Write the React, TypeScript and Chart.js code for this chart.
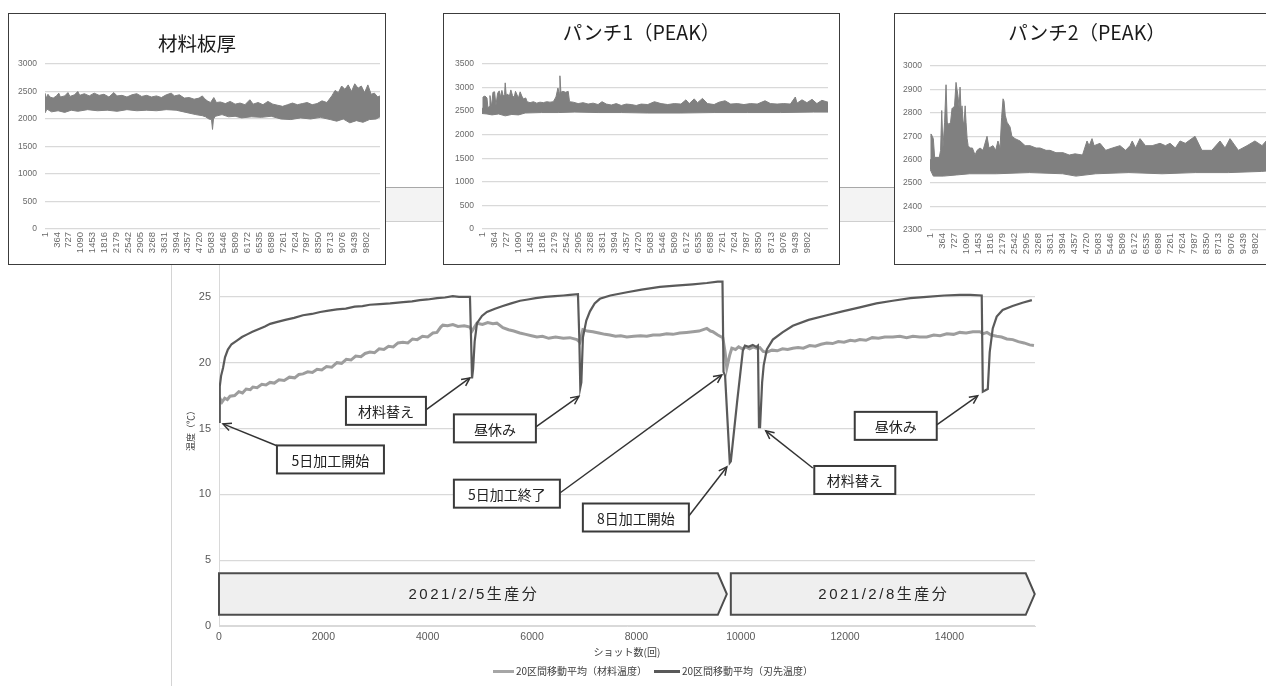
import React, { useEffect, useRef } from "react";
import { Chart, registerables } from "chart.js";

Chart.register(...registerables);

type Pt = [number, number];

// ---------------- main chart data (shot count, °C) ----------------
const materialTemp: Pt[] = [
  [0, 16.9], [30, 17.2], [57, 17.0], [110, 17.3], [160, 17.2], [211, 17.45], [300, 17.5], [380, 17.8],
  [450, 17.7], [520, 18.0], [600, 17.95], [650, 18.15], [730, 18.1], [820, 18.35], [900, 18.3], [977, 18.5],
  [1060, 18.45], [1150, 18.7], [1250, 18.65], [1350, 18.9], [1450, 18.85], [1530, 19.1], [1610, 19.15],
  [1700, 19.3], [1790, 19.25], [1880, 19.5], [1970, 19.45], [2060, 19.7], [2160, 19.65], [2260, 20.0],
  [2350, 19.95], [2440, 20.25], [2530, 20.2], [2620, 20.5], [2720, 20.45], [2800, 20.7], [2893, 20.8],
  [2980, 20.75], [3070, 21.05], [3160, 21.0], [3250, 21.25], [3340, 21.2], [3430, 21.5], [3525, 21.55],
  [3620, 21.5], [3710, 21.8], [3800, 21.75], [3900, 22.0], [4000, 21.95], [4100, 22.25], [4177, 22.3],
  [4250, 22.7], [4290, 22.85], [4380, 22.8], [4483, 22.9], [4580, 22.75], [4700, 22.8], [4809, 22.7],
  [4850, 22.4], [4880, 22.6], [4943, 23.0], [5050, 22.9], [5150, 23.05], [5250, 22.95], [5326, 23.0],
  [5441, 22.65], [5550, 22.5], [5650, 22.4], [5767, 22.25], [5880, 22.15], [5990, 22.05], [6093, 21.95],
  [6200, 22.0], [6320, 21.85], [6450, 21.95], [6600, 21.85], [6725, 21.9], [6860, 21.75], [6917, 21.55],
  [6974, 22.5], [7060, 22.4], [7166, 22.35], [7280, 22.25], [7400, 22.15], [7492, 22.1], [7600, 22.0],
  [7700, 22.05], [7817, 21.95], [7950, 22.0], [8080, 22.05], [8200, 22.0], [8320, 22.1], [8450, 22.1],
  [8580, 22.2], [8700, 22.15], [8830, 22.25], [8960, 22.3], [9082, 22.35], [9200, 22.4], [9350, 22.6],
  [9420, 22.4], [9465, 22.35], [9560, 22.1], [9657, 21.9], [9700, 20.8], [9733, 19.6], [9790, 20.6],
  [9829, 21.1], [9900, 21.0], [9960, 21.2], [10030, 21.05], [10100, 21.2], [10170, 21.05], [10240, 21.2],
  [10300, 21.1], [10366, 21.15], [10430, 20.85], [10500, 20.8], [10600, 20.95], [10700, 20.9], [10800, 21.05],
  [10900, 21.0], [10998, 21.1], [11100, 21.15], [11200, 21.1], [11320, 21.3], [11430, 21.25], [11540, 21.4],
  [11649, 21.5], [11760, 21.45], [11870, 21.6], [11980, 21.55], [12100, 21.7], [12190, 21.65], [12282, 21.75],
  [12400, 21.7], [12520, 21.9], [12640, 21.85], [12760, 21.95], [12914, 21.95], [13050, 22.0], [13180, 21.9],
  [13300, 22.0], [13430, 21.95], [13565, 21.95], [13700, 22.1], [13820, 22.05], [13950, 22.2], [14080, 22.15],
  [14198, 22.3], [14320, 22.25], [14450, 22.35], [14581, 22.35], [14650, 22.2], [14720, 22.3], [14800, 22.1],
  [14906, 22.0], [15000, 21.95], [15100, 21.8], [15213, 21.75], [15320, 21.6], [15430, 21.5], [15539, 21.35],
  [15620, 21.3],
];

const bladeTemp: Pt[] = [
  [0, 15.5], [15, 18.2], [40, 19.0], [77, 19.6], [115, 20.4], [170, 21.0], [240, 21.4], [350, 21.7],
  [440, 21.95], [540, 22.15], [640, 22.35], [790, 22.6], [880, 22.75], [980, 22.95], [1120, 23.1],
  [1270, 23.25], [1440, 23.4], [1610, 23.6], [1780, 23.7], [1940, 23.85], [2100, 23.95], [2260, 24.05],
  [2430, 24.1], [2600, 24.25], [2750, 24.3], [2890, 24.4], [3080, 24.45], [3280, 24.5], [3530, 24.6],
  [3700, 24.65], [3850, 24.75], [4000, 24.8], [4180, 24.9], [4330, 24.95], [4480, 25.05], [4600, 25.0],
  [4710, 25.0], [4810, 25.0], [4830, 22.0], [4850, 18.8], [4870, 19.5], [4900, 21.6], [4945, 23.0],
  [5040, 23.55], [5135, 23.85], [5290, 24.1], [5440, 24.3], [5600, 24.5], [5770, 24.7], [5920, 24.8],
  [6070, 24.9], [6250, 25.0], [6440, 25.05], [6600, 25.1], [6725, 25.15], [6880, 25.2], [6905, 22.0],
  [6925, 18.1], [6945, 18.5], [6975, 21.9], [7040, 23.2], [7110, 23.9], [7200, 24.5], [7300, 24.85],
  [7500, 25.1], [7820, 25.35], [8100, 25.55], [8450, 25.75], [8750, 25.85], [9080, 25.95], [9350, 26.05],
  [9560, 26.15], [9650, 26.15], [9670, 19.3], [9700, 19.0], [9790, 12.4], [9810, 12.5], [9930, 17.0],
  [10040, 20.9], [10080, 21.3], [10150, 21.2], [10230, 21.35], [10300, 21.2], [10330, 21.3], [10350, 15.1],
  [10370, 15.1], [10410, 18.5], [10440, 19.8], [10500, 21.0], [10615, 21.75], [10800, 22.3], [10998, 22.8],
  [11300, 23.25], [11649, 23.6], [11950, 23.9], [12282, 24.2], [12600, 24.5], [12914, 24.7], [13250, 24.9],
  [13565, 25.0], [13900, 25.1], [14198, 25.15], [14400, 25.15], [14619, 25.1], [14640, 17.8], [14690, 17.9],
  [14735, 18.0], [14772, 20.8], [14830, 22.6], [14906, 23.5], [15020, 24.0], [15210, 24.3], [15400, 24.55],
  [15580, 24.75],
];

const seriesLabels = ["20区間移動平均（材料温度）", "20区間移動平均（刃先温度）"];
const xAxisTitle = "ショット数(回)";
const yAxisTitle = "温度（℃）";
const xTickValues = [0, 2000, 4000, 6000, 8000, 10000, 12000, 14000];
const yTickValues = [0, 5, 10, 15, 20, 25, 30];
const xMaxShots = 15640;

// production periods
const periodLabels = ["2021/2/5生産分", "2021/2/8生産分"];
const periodStart = [0, 9810];
const periodEnd = [9733, 15635];
const periodTop = 4.0;
const periodBottom = 0.85;

// callouts: label, box centre, arrow start, arrow tip (shot, °C)
const calloutLabels = ["5日加工開始", "材料替え", "昼休み", "5日加工終了", "8日加工開始", "材料替え", "昼休み"];
const calloutBox: Pt[] = [[2136, 12.65], [3200, 16.34], [5288, 15.01], [5518, 10.05], [7990, 8.24], [12186, 11.09], [12971, 15.2]];
const calloutFrom: Pt[] = [[1169, 13.6], [3966, 16.41], [6074, 15.12], [6534, 10.1], [9005, 8.36], [11381, 12.0], [13757, 15.27]];
const calloutTo: Pt[] = [[77, 15.35], [4809, 18.84], [6898, 17.44], [9637, 19.07], [9733, 12.08], [10480, 14.82], [14542, 17.48]];
const calloutWidth = [107, 80, 82, 106, 106, 81, 82];

// ---------------- inset data (envelopes of the dense series) ----------------
const insetTickLabels = [1, 364, 727, 1090, 1453, 1816, 2179, 2542, 2905, 3268, 3631, 3994, 4357, 4720, 5083,
  5446, 5809, 6172, 6535, 6898, 7261, 7624, 7987, 8350, 8713, 9076, 9439, 9802];

const thicknessUpper: Pt[] = [
  [0, 2470], [40, 2380], [90, 2450], [150, 2400], [250, 2380], [350, 2420], [420, 2470], [470, 2400],
  [600, 2420], [700, 2480], [760, 2410], [900, 2440], [1000, 2500], [1060, 2430], [1200, 2460], [1350, 2420],
  [1500, 2470], [1650, 2430], [1800, 2450], [1950, 2400], [2100, 2480], [2200, 2420], [2350, 2430], [2500, 2400],
  [2650, 2440], [2800, 2460], [2950, 2410], [3100, 2430], [3250, 2400], [3400, 2420], [3550, 2390], [3700, 2440],
  [3850, 2470], [3950, 2420], [4100, 2440], [4250, 2380], [4400, 2390], [4550, 2360], [4700, 2380], [4800, 2420],
  [4870, 2370], [4950, 2330], [5050, 2300], [5150, 2390], [5230, 2300], [5350, 2310], [5500, 2280], [5650, 2320],
  [5800, 2270], [5950, 2290], [6100, 2260], [6250, 2350], [6350, 2270], [6500, 2300], [6650, 2260], [6800, 2320],
  [6950, 2270], [7100, 2250], [7250, 2230], [7400, 2260], [7550, 2290], [7700, 2260], [7850, 2280], [8000, 2300],
  [8150, 2260], [8300, 2280], [8450, 2330], [8600, 2300], [8750, 2420], [8850, 2520], [8950, 2480], [9050, 2600],
  [9150, 2540], [9250, 2620], [9350, 2500], [9450, 2640], [9550, 2560], [9650, 2600], [9750, 2480], [9850, 2620],
  [9950, 2450], [10050, 2470], [10150, 2400], [10220, 2420],
];
const thicknessLower: Pt[] = [
  [0, 2110], [60, 2180], [200, 2130], [400, 2150], [600, 2120], [800, 2160], [1000, 2140], [1300, 2170],
  [1600, 2150], [1900, 2160], [2200, 2140], [2500, 2170], [2800, 2150], [3100, 2160], [3400, 2150], [3700, 2170],
  [4000, 2160], [4300, 2120], [4600, 2080], [4800, 2060], [4900, 2040], [5000, 2000], [5080, 1990], [5110, 1810],
  [5140, 2000], [5200, 2050], [5400, 2080], [5600, 2040], [5800, 2050], [6000, 2020], [6300, 2040], [6600, 2030],
  [6900, 2050], [7200, 2000], [7500, 1990], [7800, 2020], [8100, 2000], [8400, 2030], [8700, 1990], [8900, 1960],
  [9100, 2000], [9300, 1930], [9500, 1970], [9700, 1940], [9900, 1990], [10100, 2000], [10220, 2040],
];

const punch1Upper: Pt[] = [
  [0, 2560], [30, 2800], [90, 2820], [150, 2780], [180, 2560], [212, 2600], [240, 2830], [290, 2600],
  [330, 2900], [380, 2910], [420, 2620], [470, 2880], [520, 2930], [560, 2800], [600, 2940], [640, 2820],
  [680, 2850], [700, 3100], [730, 2840], [780, 2860], [820, 2800], [870, 2950], [920, 2830], [970, 2790],
  [1010, 2920], [1060, 2840], [1100, 2780], [1150, 2910], [1200, 2820], [1250, 2760], [1320, 2780], [1360, 2700],
  [1450, 2680], [1550, 2700], [1650, 2670], [1750, 2690], [1850, 2680], [1950, 2700], [2050, 2690], [2150, 2700],
  [2230, 2800], [2290, 2990], [2330, 2880], [2350, 3250], [2380, 2900], [2440, 2920], [2520, 2900], [2600, 2920],
  [2640, 2700], [2750, 2690], [2900, 2660], [3050, 2680], [3200, 2650], [3350, 2670], [3500, 2640], [3620, 2700],
  [3750, 2650], [3900, 2630], [4050, 2660], [4200, 2620], [4350, 2650], [4500, 2640], [4650, 2620], [4800, 2650],
  [5000, 2640], [5200, 2700], [5400, 2660], [5600, 2640], [5800, 2660], [6000, 2650], [6150, 2740], [6250, 2660],
  [6400, 2760], [6500, 2680], [6650, 2770], [6800, 2660], [7000, 2640], [7150, 2690], [7330, 2720], [7500, 2650],
  [7700, 2660], [7900, 2640], [8100, 2660], [8300, 2650], [8536, 2720], [8700, 2660], [8900, 2650], [9100, 2660],
  [9300, 2650], [9450, 2800], [9500, 2670], [9650, 2740], [9800, 2680], [9954, 2750], [10100, 2660], [10250, 2730],
  [10435, 2690],
];
const punch1Lower: Pt[] = [
  [0, 2450], [150, 2440], [300, 2420], [500, 2440], [700, 2400], [900, 2430], [1100, 2420], [1300, 2460],
  [1800, 2470], [2300, 2470], [2800, 2480], [3500, 2470], [4200, 2470], [5000, 2460], [6000, 2460], [7000, 2470],
  [8000, 2470], [9000, 2470], [10000, 2480], [10435, 2480],
];

const punch2Upper: Pt[] = [
  [0, 2600], [30, 2710], [70, 2700], [100, 2690], [140, 2610], [280, 2610], [320, 2640], [354, 2810],
  [390, 2650], [440, 2760], [484, 2920], [520, 2760], [570, 2750], [620, 2760], [665, 2820], [700, 2820],
  [740, 2830], [785, 2930], [815, 2900], [846, 2870], [880, 2820], [906, 2910], [940, 2800], [966, 2830],
  [1000, 2760], [1030, 2760], [1060, 2830], [1087, 2760], [1120, 2690], [1150, 2660], [1208, 2650], [1280, 2650],
  [1358, 2620], [1420, 2640], [1509, 2650], [1600, 2640], [1720, 2700], [1780, 2650], [1901, 2660], [1980, 2640],
  [2050, 2680], [2112, 2650], [2160, 2780], [2203, 2860], [2233, 2850], [2270, 2790], [2323, 2760], [2414, 2740],
  [2470, 2700], [2565, 2690], [2715, 2680], [2870, 2660], [3017, 2660], [3200, 2650], [3319, 2650], [3500, 2640],
  [3620, 2640], [3800, 2630], [4013, 2630], [4200, 2620], [4375, 2625], [4600, 2620], [4736, 2680], [4800, 2660],
  [4887, 2690], [4950, 2660], [5128, 2670], [5300, 2640], [5500, 2650], [5731, 2660], [5900, 2640], [6033, 2660],
  [6100, 2680], [6200, 2650], [6335, 2690], [6500, 2660], [6700, 2660], [6938, 2670], [7100, 2660], [7240, 2670],
  [7400, 2650], [7541, 2680], [7700, 2670], [7994, 2700], [8200, 2640], [8500, 2640], [8748, 2680], [8900, 2650],
  [9049, 2690], [9300, 2640], [9562, 2660], [9800, 2680], [10014, 2660], [10200, 2690], [10406, 2700],
];
const punch2Lower: Pt[] = [
  [0, 2560], [100, 2530], [400, 2530], [800, 2535], [1200, 2540], [2000, 2540], [3000, 2545], [4000, 2540],
  [4400, 2530], [5000, 2540], [6000, 2545], [7000, 2540], [8000, 2545], [9000, 2545], [10000, 2550], [10406, 2555],
];

const insetTitles = ["材料板厚", "パンチ1（PEAK）", "パンチ2（PEAK）"];

const LATIN = '"Liberation Sans", "Noto Sans CJK JP", sans-serif';
const CJK = '"Noto Sans CJK JP", "Liberation Sans", sans-serif';

const toXY = (a: Pt[]) => a.map(([x, y]) => ({ x, y }));

const calloutPlugin = {
  id: "callouts",
  afterDatasetsDraw(chart: any) {
    const { ctx, scales } = chart;
    const xs = scales.x;
    const ys = scales.y;
    ctx.save();
    periodLabels.forEach((label, i) => {
      const x0 = xs.getPixelForValue(periodStart[i]);
      const xt = xs.getPixelForValue(periodEnd[i]);
      const xb = xt - 9;
      const yt = ys.getPixelForValue(periodTop);
      const yb = ys.getPixelForValue(periodBottom);
      const ym = (yt + yb) / 2;
      ctx.beginPath();
      ctx.moveTo(x0, yt);
      ctx.lineTo(xb, yt);
      ctx.lineTo(xt, ym);
      ctx.lineTo(xb, yb);
      ctx.lineTo(x0, yb);
      ctx.closePath();
      ctx.fillStyle = "#efefef";
      ctx.fill();
      ctx.lineWidth = 2;
      ctx.lineJoin = "miter";
      ctx.strokeStyle = "#4d4d4d";
      ctx.stroke();
      ctx.fillStyle = "#262626";
      ctx.font = `15px ${LATIN}`;
      ctx.textAlign = "center";
      ctx.textBaseline = "middle";
      ctx.letterSpacing = "2.5px";
      ctx.fillText(label, (x0 + xt) / 2 + 1, ym + 1);
      ctx.letterSpacing = "0px";
    });
    calloutLabels.forEach((label, i) => {
      const cx = xs.getPixelForValue(calloutBox[i][0]);
      const cy = ys.getPixelForValue(calloutBox[i][1]);
      const ax = xs.getPixelForValue(calloutFrom[i][0]);
      const ay = ys.getPixelForValue(calloutFrom[i][1]);
      const px = xs.getPixelForValue(calloutTo[i][0]);
      const py = ys.getPixelForValue(calloutTo[i][1]);
      const w = calloutWidth[i];
      const h = 28;
      ctx.strokeStyle = "#333333";
      ctx.lineWidth = 1.5;
      ctx.beginPath();
      ctx.moveTo(ax, ay);
      ctx.lineTo(px, py);
      ctx.stroke();
      const ang = Math.atan2(py - ay, px - ax);
      const L = 9;
      ctx.beginPath();
      ctx.moveTo(px - L * Math.cos(ang - 0.45), py - L * Math.sin(ang - 0.45));
      ctx.lineTo(px, py);
      ctx.lineTo(px - L * Math.cos(ang + 0.45), py - L * Math.sin(ang + 0.45));
      ctx.stroke();
      ctx.fillStyle = "#ffffff";
      ctx.fillRect(cx - w / 2, cy - h / 2, w, h);
      ctx.lineWidth = 2;
      ctx.strokeStyle = "#3a3a3a";
      ctx.strokeRect(cx - w / 2, cy - h / 2, w, h);
      ctx.fillStyle = "#222222";
      ctx.font = `14px ${CJK}`;
      ctx.textAlign = "center";
      ctx.textBaseline = "middle";
      ctx.fillText(label, cx, cy + 1);
    });
    ctx.restore();
  },
};

function MainChart() {
  const ref = useRef<HTMLCanvasElement>(null);
  useEffect(() => {
    const chart = new Chart(ref.current as HTMLCanvasElement, {
      type: "line",
      data: {
        datasets: [
          { label: seriesLabels[0], data: toXY(materialTemp), borderColor: "#9d9d9d", borderWidth: 3, pointRadius: 0, tension: 0, order: 2 },
          { label: seriesLabels[1], data: toXY(bladeTemp), borderColor: "#5a5a5a", borderWidth: 2.2, pointRadius: 0, tension: 0, order: 1 },
        ],
      } as any,
      options: {
        animation: false,
        responsive: false,
        maintainAspectRatio: false,
        layout: { padding: { left: 171, top: 231, right: 231, bottom: 28 } },
        plugins: { legend: { display: false }, tooltip: { enabled: false } },
        scales: {
          x: {
            type: "linear",
            min: 0,
            max: xMaxShots,
            afterFit: (s: any) => { s.height = 32; },
            afterBuildTicks: (s: any) => { s.ticks = xTickValues.map((v) => ({ value: v })); },
            ticks: { maxRotation: 0, autoSkip: false, padding: 5, color: "#595959", font: { size: 10.5, family: LATIN }, callback: (v: any) => String(v) },
            grid: { display: false, drawTicks: false },
            border: { display: true, color: "#d9d9d9" },
            title: { display: true, text: xAxisTitle, color: "#404040", font: { size: 10, family: CJK }, padding: { top: 2, bottom: 0 } },
          },
          y: {
            min: 0,
            max: 30,
            afterFit: (s: any) => { s.width = 48; },
            afterBuildTicks: (s: any) => { s.ticks = yTickValues.map((v) => ({ value: v })); },
            ticks: { padding: 8, color: "#595959", font: { size: 11, family: LATIN }, callback: (v: any) => (v === 30 ? "" : String(v)) },
            grid: { drawTicks: false, lineWidth: 1.2, color: (c: any) => (c.tick && c.tick.value === 30 ? "rgba(0,0,0,0)" : "#d9d9d9") },
            border: { display: true, color: "#d9d9d9" },
            title: { display: true, text: yAxisTitle, color: "#404040", font: { size: 9, family: CJK }, padding: { top: 14, bottom: 0 } },
          },
        },
      } as any,
      plugins: [calloutPlugin],
    });
    return () => chart.destroy();
  }, []);
  return <canvas ref={ref} width={1266} height={686} style={{ position: "absolute", left: 0, top: 0, width: 1266, height: 686 }} />;
}

type InsetProps = {
  title: string;
  titleY: number;
  left: number;
  top: number;
  width: number;
  height: number;
  plot: { left: number; top: number; right: number; bottom: number };
  yMin: number;
  yMax: number;
  yStep: number;
  xMax: number;
  upper: Pt[];
  lower: Pt[];
};

function Inset(p: InsetProps) {
  const ref = useRef<HTMLCanvasElement>(null);
  const cw = p.width - 2;
  const ch = p.height - 2;
  useEffect(() => {
    const chart = new Chart(ref.current as HTMLCanvasElement, {
      type: "line",
      data: {
        datasets: [
          { data: toXY(p.lower), borderColor: "#808080", borderWidth: 1, pointRadius: 0, fill: false },
          { data: toXY(p.upper), borderColor: "#808080", borderWidth: 1, pointRadius: 0, fill: "-1", backgroundColor: "#808080" },
        ],
      } as any,
      options: {
        animation: false,
        responsive: false,
        maintainAspectRatio: false,
        layout: { padding: { left: 0, top: p.plot.top, right: cw - p.plot.right, bottom: 0 } },
        plugins: { legend: { display: false }, tooltip: { enabled: false } },
        scales: {
          x: {
            type: "linear",
            min: 0,
            max: p.xMax,
            afterFit: (s: any) => { s.height = ch - p.plot.bottom; },
            afterBuildTicks: (s: any) => { s.ticks = insetTickLabels.map((v) => ({ value: v })); },
            ticks: { autoSkip: false, minRotation: 90, maxRotation: 90, padding: 3, color: "#6a6a6a", font: { size: 9.5, family: LATIN }, callback: (v: any) => String(v) },
            grid: { display: false, drawTicks: false },
            border: { display: false },
          },
          y: {
            min: p.yMin,
            max: p.yMax,
            afterFit: (s: any) => { s.width = p.plot.left; },
            ticks: { stepSize: p.yStep, padding: 8, color: "#6a6a6a", font: { size: 8.5, family: LATIN }, callback: (v: any) => String(v) },
            grid: { drawTicks: false, color: "#d9d9d9", lineWidth: 1.3 },
            border: { display: false },
          },
        },
      } as any,
    });
    return () => chart.destroy();
  }, []);
  return (
    <div style={{ position: "absolute", left: p.left, top: p.top, width: p.width, height: p.height, boxSizing: "border-box", border: "1px solid #3c3c3c", background: "#fff", zIndex: 3 }}>
      <canvas ref={ref} width={cw} height={ch} style={{ position: "absolute", left: 0, top: 0, width: cw, height: ch }} />
      <div style={{ position: "absolute", left: 0, width: cw, top: p.titleY - 11, height: 22, lineHeight: "22px", textAlign: "center", fontFamily: CJK, fontSize: 19.5, color: "#1a1a1a" }}>{p.title}</div>
    </div>
  );
}

export default function App() {
  return (
    <div style={{ position: "fixed", left: 0, top: 0, width: 1266, height: 686, overflow: "hidden", background: "#fff" }}>
      <MainChart />
      <div style={{ position: "absolute", left: 171, top: 187, width: 1095, height: 35, boxSizing: "border-box", background: "#f3f3f3", borderTop: "1px solid #a8a8a8", borderBottom: "1px solid #cfcfcf", zIndex: 1 }} />
      <div style={{ position: "absolute", left: 171, top: 222, width: 0, height: 464, borderLeft: "1px solid #d4d4d4", zIndex: 1 }} />
      <Inset title={insetTitles[0]} titleY={29} left={8} top={13} width={378} height={252}
        plot={{ left: 36, top: 50, right: 371, bottom: 215 }} yMin={0} yMax={3000} yStep={500} xMax={10220}
        upper={thicknessUpper} lower={thicknessLower} />
      <Inset title={insetTitles[1]} titleY={18} left={443} top={13} width={397} height={252}
        plot={{ left: 38, top: 50, right: 384, bottom: 215 }} yMin={0} yMax={3500} yStep={500} xMax={10435}
        upper={punch1Upper} lower={punch1Lower} />
      <Inset title={insetTitles[2]} titleY={18} left={894} top={13} width={386} height={252}
        plot={{ left: 35, top: 52, right: 380, bottom: 216 }} yMin={2300} yMax={3000} yStep={100} xMax={10406}
        upper={punch2Upper} lower={punch2Lower} />
      <div style={{ position: "absolute", left: 493, top: 670, width: 21, height: 3, background: "#a6a6a6" }} />
      <div style={{ position: "absolute", left: 516, top: 664, fontFamily: CJK, fontSize: 10, lineHeight: "14px", color: "#404040", whiteSpace: "nowrap" }}>{seriesLabels[0]}</div>
      <div style={{ position: "absolute", left: 654, top: 670, width: 26, height: 3, background: "#595959" }} />
      <div style={{ position: "absolute", left: 682, top: 664, fontFamily: CJK, fontSize: 10, lineHeight: "14px", color: "#404040", whiteSpace: "nowrap" }}>{seriesLabels[1]}</div>
    </div>
  );
}
